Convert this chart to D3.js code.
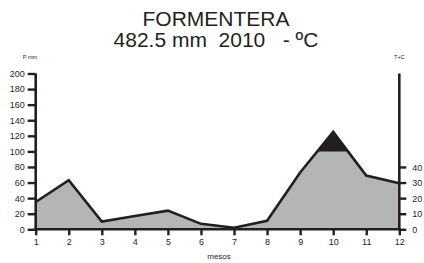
<!DOCTYPE html>
<html>
  <head>
    <meta charset="utf-8">
    <title>Formentera</title>
    <script src="https://cdn.jsdelivr.net/npm/d3@7"></script>
    <style>
      body { margin: 0; background: #fff; }
      svg { font-family: "Liberation Sans", Arial, sans-serif; }
      .title { white-space: pre; }
    </style>
  </head>
  <body>
    <div id="chart"></div>

    <script>
      // data
      months = [1, 2, 3, 4, 5, 6, 7, 8, 9, 10, 11, 12];
      precip = [35, 63, 10, 17, 24, 7, 2, 11, 73, 125, 69, 59];
      precipTicks = [0, 20, 40, 60, 80, 100, 120, 140, 160, 180, 200];
      tempTicks = [0, 10, 20, 30, 40];
      title = ["FORMENTERA", "482.5 mm  2010   - \u00baC"];

      width = 424;
      height = 263;
      ink = "#231f20";

      svg = d3.select("#chart")
        .append("svg")
          .attr("width", width)
          .attr("height", height);

      // scales
      x = d3.scaleLinear().domain([1, 12]).range([35.7, 399.3]);
      yP = d3.scaleLinear().domain([0, 200]).range([229.3, 73.5]);
      yT = d3.scaleLinear().domain([0, 100]).range([229.3, 73.5]);

      pts = months.map(function(m, i) { return [m, precip[i]]; });

      area = d3.area()
        .x(function(d) { return x(d[0]); })
        .y0(yP(0))
        .y1(function(d) { return yP(d[1]); });
      line = d3.line()
        .x(function(d) { return x(d[0]); })
        .y(function(d) { return yP(d[1]); });

      // clip for the part above 100 mm
      svg.append("clipPath")
          .attr("id", "above")
        .append("rect")
          .attr("x", 0)
          .attr("y", 0)
          .attr("width", width)
          .attr("height", yP(100));

      svg.append("path")
        .datum(pts)
        .attr("d", area)
        .attr("fill", "#b4b5b7");
      svg.append("path")
        .datum(pts)
        .attr("d", area)
        .attr("fill", ink)
        .attr("clip-path", "url(#above)");
      svg.append("path")
        .datum(pts)
        .attr("d", line)
        .attr("fill", "none")
        .attr("stroke", ink)
        .attr("stroke-width", 2.6)
        .attr("stroke-linejoin", "miter");

      // axes
      function styleAxis(g) {
        g.select(".domain").remove();
        g.selectAll(".tick line").attr("stroke", ink).attr("stroke-width", 2.4);
        g.selectAll(".tick text").attr("fill", ink).attr("font-size", 9)
          .attr("font-family", "'Liberation Sans', Arial, sans-serif");
      }

      svg.append("g")
        .attr("transform", "translate(" + x(1) + ",0)")
        .call(d3.axisLeft(yP).tickValues(precipTicks).tickSize(8).tickPadding(3))
        .call(styleAxis);

      svg.append("g")
        .attr("transform", "translate(" + x(12) + ",0)")
        .call(d3.axisRight(yT).tickValues(tempTicks).tickSize(7).tickPadding(6))
        .call(styleAxis)
        .selectAll(".tick text").attr("dy", "0.34em");

      svg.append("g")
        .attr("transform", "translate(0," + yP(0) + ")")
        .call(d3.axisBottom(x).tickValues(months).tickFormat(d3.format("d")).tickSize(6).tickPadding(3))
        .call(styleAxis);

      // axis lines
      svg.append("line")
        .attr("x1", x(1)).attr("x2", x(1))
        .attr("y1", yP(200)).attr("y2", yP(0) + 1.2)
        .attr("stroke", ink).attr("stroke-width", 2.6);
      svg.append("line")
        .attr("x1", x(12)).attr("x2", x(12))
        .attr("y1", yT(100)).attr("y2", yP(0) + 1.2)
        .attr("stroke", ink).attr("stroke-width", 2.6);
      svg.append("line")
        .attr("x1", x(1) - 1.3).attr("x2", x(12) + 1.3)
        .attr("y1", yP(0)).attr("y2", yP(0))
        .attr("stroke", ink).attr("stroke-width", 2.6);

      // texts
      svg.selectAll(".title")
        .data(title)
        .enter().append("text")
          .attr("class", "title")
          .attr("xml:space", "preserve")
          .attr("x", 216)
          .attr("y", function(d, i) { return 25.5 + i * 21.5; })
          .attr("text-anchor", "middle")
          .attr("font-size", 21)
          .attr("fill", ink)
          .text(function(d) { return d; });

      svg.append("text")
        .attr("x", 30).attr("y", 58.5)
        .attr("text-anchor", "middle")
        .attr("font-size", 5.5)
        .attr("fill", ink)
        .text("P mm");
      svg.append("text")
        .attr("x", x(12)).attr("y", 58.5)
        .attr("text-anchor", "middle")
        .attr("font-size", 5.5)
        .attr("fill", ink)
        .text("T+C");
      svg.append("text")
        .attr("x", 219).attr("y", 259)
        .attr("text-anchor", "middle")
        .attr("font-size", 8)
        .attr("fill", ink)
        .text("mesos");
    </script>
  </body>
</html>
